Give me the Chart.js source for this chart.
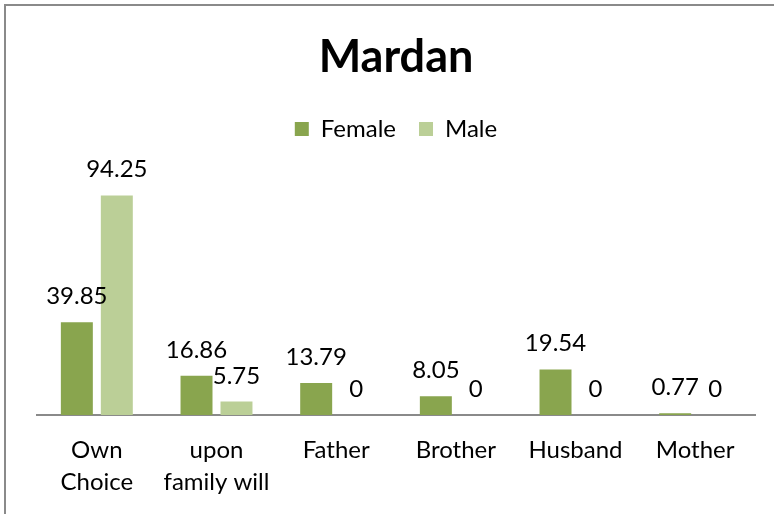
<!DOCTYPE html>
<html>
<head>
<meta charset="utf-8">
<script src="https://cdn.jsdelivr.net/npm/chart.js@4"></script>
<style>
  html, body { margin: 0; padding: 0; background: #fff; }
  #wrap { width: 774px; height: 514px; position: relative; }
</style>
</head>
<body>
<div id="wrap"><canvas id="bar-chart" width="774" height="514"></canvas></div>
<script>
const categories = [['Own', 'Choice'], ['upon', 'family will'], 'Father', 'Brother', 'Husband', 'Mother']
const female = [39.85, 16.86, 13.79, 8.05, 19.54, 0.77]
const male = [94.25, 5.75, 0, 0, 0, 0]

const FONT = 'Lato, "Liberation Sans", sans-serif'

// grey frame of the chart, only left and top edges are visible in the picture
const frame = {
  id: 'frame',
  beforeDraw(chart) {
    const c = chart.ctx
    c.save()
    c.fillStyle = '#fff'
    c.fillRect(0, 0, chart.width, chart.height)
    c.strokeStyle = '#8a8a8a'
    c.lineWidth = 2
    c.strokeRect(5, 5, chart.width + 20, chart.height + 20)
    c.restore()
  },
}

// value labels above every bar
const valueLabels = {
  id: 'valueLabels',
  afterDatasetsDraw(chart) {
    const c = chart.ctx
    c.save()
    c.font = '24px ' + FONT
    c.fillStyle = '#000'
    c.textAlign = 'center'
    c.textBaseline = 'alphabetic'
    chart.data.datasets.forEach((ds, i) => {
      chart.getDatasetMeta(i).data.forEach((bar, j) => {
        c.fillText(String(ds.data[j]), bar.x, bar.y - 18)
      })
    })
    c.restore()
  },
}

// extra room under the legend
const legendGap = {
  id: 'legendGap',
  beforeInit(chart) {
    const fit = chart.legend.fit
    chart.legend.fit = function () {
      fit.bind(chart.legend)()
      this.height += 31
    }
  },
}

new Chart(document.getElementById('bar-chart'), {
  type: 'bar',
  data: {
    labels: categories,
    datasets: [
      {
        label: 'Female',
        data: female,
        backgroundColor: 'rgb(137, 165, 78)',
        categoryPercentage: 0.668,
        barPercentage: 0.8,
      },
      {
        label: 'Male',
        data: male,
        backgroundColor: 'rgb(187, 207, 151)',
        categoryPercentage: 0.668,
        barPercentage: 0.8,
      },
    ],
  },
  options: {
    responsive: false,
    animation: false,
    layout: {
      padding: { top: 5, left: 37, right: 19, bottom: -3 },
    },
    scales: {
      x: {
        grid: { display: false, drawTicks: false },
        border: { display: true, color: '#8a8a8a', width: 2 },
        ticks: {
          padding: 19,
          color: '#000',
          maxRotation: 0,
          autoSkip: false,
          font: { size: 24, family: FONT, lineHeight: 1.333 },
        },
      },
      y: {
        display: false,
        min: 0,
        max: 100,
      },
    },
    plugins: {
      title: {
        display: true,
        text: 'Mardan',
        color: '#000',
        font: { size: 45, weight: 'bold', family: FONT },
        padding: { top: 25, bottom: 10 },
      },
      legend: {
        display: true,
        labels: {
          color: '#000',
          boxWidth: 14,
          boxHeight: 14,
          padding: 23,
          font: { size: 24, family: FONT },
        },
      },
      tooltip: { enabled: false },
    },
  },
  plugins: [frame, valueLabels, legendGap],
})
</script>
</body>
</html>
